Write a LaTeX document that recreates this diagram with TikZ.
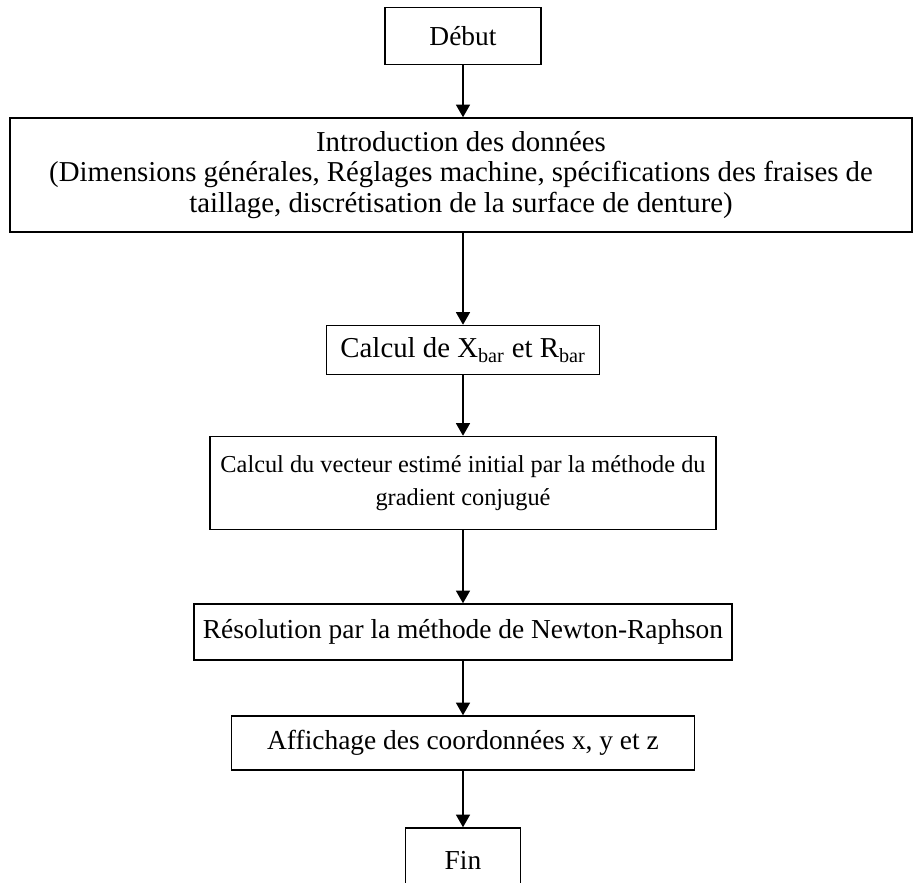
\documentclass[tikz,border=0pt]{standalone}
\usepackage{fontspec}
\setmainfont{Liberation Serif}
\usetikzlibrary{arrows.meta}
\tikzset{
  box/.style={draw,line width=1.1pt,align=center,inner sep=2pt,
              font=\fontsize{19.5}{21.5}\selectfont},
  flow/.style={line width=1.1pt,-{Triangle[width=10pt,length=9pt]}}
}
\begin{document}
\begin{tikzpicture}[x=0.025cm,y=-0.025cm]
  \useasboundingbox (0,0) rectangle (913,882);
  % Draw boxes
  \node[box,minimum width=156*0.025cm,minimum height=57*0.025cm]
        (debut) at (463,36) {D\'ebut};
  \node[box,minimum width=902*0.025cm,minimum height=114*0.025cm,
        font=\fontsize{20.5}{21.6}\selectfont] (intro) at (461,175)
        {Introduction des donn\'ees\\(Dimensions g\'en\'erales, R\'eglages machine,
         sp\'ecifications des fraises de\\taillage, discr\'etisation de la surface
         de denture)};
  \node[box,minimum width=273*0.025cm,minimum height=49*0.025cm,
        font=\fontsize{20.5}{21.5}\selectfont]
        (xbar) at (463,350) {Calcul de X\textsubscript{bar} et R\textsubscript{bar}};
  \node[box,minimum width=506*0.025cm,minimum height=93*0.025cm,
        font=\fontsize{17.3}{23}\selectfont]
        (grad) at (463,483) {Calcul du vecteur estim\'e initial par la m\'ethode du\\
         gradient conjugu\'e};
  \node[box,minimum width=538*0.025cm,minimum height=56*0.025cm]
        (newton) at (463,632) {R\'esolution par la m\'ethode de Newton-Raphson};
  \node[box,minimum width=463*0.025cm,minimum height=54*0.025cm]
        (affich) at (463,743) {Affichage des coordonn\'ees x, y et z};
  \node[box,minimum width=115*0.025cm,minimum height=64*0.025cm]
        (fin) at (463,860) {Fin};
  % Draw arrows
  \draw[flow] (debut) -- (debut |- intro.north);
  \draw[flow] (intro.south -| xbar) -- (xbar);
  \draw[flow] (xbar) -- (grad);
  \draw[flow] (grad) -- (newton);
  \draw[flow] (newton) -- (affich);
  \draw[flow] (affich) -- (fin);
\end{tikzpicture}
\end{document}
